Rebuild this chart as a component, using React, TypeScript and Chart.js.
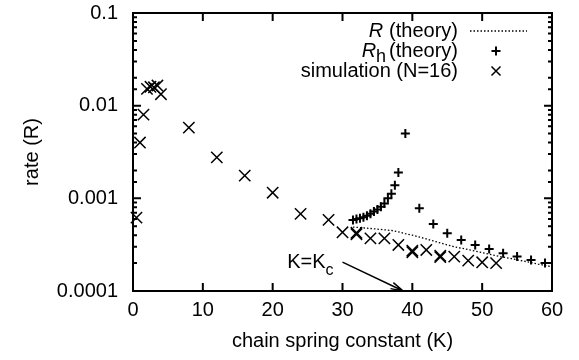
import React, { useEffect, useRef } from "react";
import { Chart, registerables } from "chart.js";

Chart.register(...registerables);

// ---------- data ----------
const rTheoryK = [31.5, 33, 35, 37, 38, 39, 40, 42, 44, 46, 48, 50, 52, 54, 56, 58, 60];
const rTheoryR = [4.9e-4, 4.8e-4, 4.65e-4, 4.5e-4, 4.35e-4, 4.15e-4, 4.0e-4, 3.65e-4, 3.3e-4, 3.0e-4, 2.8e-4, 2.6e-4, 2.4e-4, 2.25e-4, 2.1e-4, 1.95e-4, 1.83e-4];

const rhTheoryK = [31.5, 32, 32.5, 33, 33.5, 34, 34.5, 35, 35.5, 36, 36.5, 37, 37.5, 38, 39, 41, 43, 45, 47, 49, 51, 53, 55, 57, 59];
const rhTheoryR = [5.85e-4, 6.0e-4, 6.1e-4, 6.25e-4, 6.5e-4, 6.8e-4, 7.2e-4, 7.6e-4, 8.1e-4, 8.8e-4, 1.0e-3, 1.12e-3, 1.38e-3, 1.9e-3, 5.0e-3, 7.8e-4, 5.3e-4, 4.2e-4, 3.56e-4, 3.14e-4, 2.84e-4, 2.55e-4, 2.35e-4, 2.16e-4, 2.0e-4];

const simK = [0.5, 1, 1.5, 2, 2.5, 3, 3.5, 4, 8, 12, 16, 20, 24, 28, 30, 32, 32, 34, 36, 38, 40, 40, 42, 44, 44, 46, 48, 50, 52];
const simR = [6.2e-4, 4.0e-3, 8.0e-3, 1.52e-2, 1.6e-2, 1.58e-2, 1.65e-2, 1.33e-2, 5.8e-3, 2.77e-3, 1.76e-3, 1.15e-3, 6.8e-4, 5.85e-4, 4.3e-4, 4.1e-4, 4.25e-4, 3.7e-4, 3.7e-4, 3.14e-4, 2.62e-4, 2.72e-4, 2.77e-4, 2.32e-4, 2.4e-4, 2.35e-4, 2.13e-4, 2.04e-4, 2.0e-4];

const yTickLabels = ["0.0001", "0.001", "0.01", "0.1"];
const xTickLabels = ["0", "10", "20", "30", "40", "50", "60"];

const legendLabels = ["(theory)", "(theory)", "simulation (N=16)"];
const xTitle = "chain spring constant (K)";
const yTitle = "rate (R)";

// annotation arrow (data units): from label to K = Kc on the axis
const arrowFrom = { k: 30, r: 2.05e-4 };
const arrowTo = { k: 38.7, r: 1e-4 };

// ---------- styles ----------
const FAM = '"Liberation Sans", Arial, Helvetica, sans-serif';
const FS = 20;

function drawPlus(ctx: CanvasRenderingContext2D, x: number, y: number, r: number) {
  ctx.beginPath();
  ctx.moveTo(x - r, y);
  ctx.lineTo(x + r, y);
  ctx.moveTo(x, y - r);
  ctx.lineTo(x, y + r);
  ctx.stroke();
}
function drawX(ctx: CanvasRenderingContext2D, x: number, y: number, r: number) {
  ctx.beginPath();
  ctx.moveTo(x - r, y - r);
  ctx.lineTo(x + r, y + r);
  ctx.moveTo(x - r, y + r);
  ctx.lineTo(x + r, y - r);
  ctx.stroke();
}

const framePlugin = {
  id: "gnuframe",
  afterDraw(chart: any) {
    const { ctx, chartArea } = chart;
    const { left, right, top, bottom } = chartArea;
    const xs = chart.scales.x;
    const ys = chart.scales.y;
    ctx.save();
    ctx.strokeStyle = "#000";
    ctx.fillStyle = "#000";
    ctx.lineWidth = 2;
    ctx.setLineDash([]);
    // frame
    ctx.strokeRect(left, top, right - left, bottom - top);
    // x ticks (inward, top and bottom)
    xs.ticks.forEach((t: any) => {
      const px = xs.getPixelForValue(t.value);
      if (px <= left + 1 || px >= right - 1) return;
      ctx.beginPath();
      ctx.moveTo(px, bottom);
      ctx.lineTo(px, bottom - 8);
      ctx.moveTo(px, top);
      ctx.lineTo(px, top + 8);
      ctx.stroke();
    });
    // y ticks (inward, left and right)
    ys.ticks.forEach((t: any) => {
      const py = ys.getPixelForValue(t.value);
      if (py <= top + 1 || py >= bottom - 1) return;
      const lg = Math.log10(t.value);
      const major = Math.abs(lg - Math.round(lg)) < 1e-6;
      const len = major ? 8 : 4;
      ctx.beginPath();
      ctx.moveTo(left, py);
      ctx.lineTo(left + len, py);
      ctx.moveTo(right, py);
      ctx.lineTo(right - len, py);
      ctx.stroke();
    });

    // legend
    const textRight = 458;
    const rows = [31, 51, 71];
    const sx0 = 470, sx1 = 527, sxc = 496;
    ctx.textBaseline = "middle";
    ctx.textAlign = "right";
    ctx.font = `${FS}px ${FAM}`;
    const wTheory = ctx.measureText(legendLabels[0]).width;
    // row 1
    ctx.fillText(legendLabels[0], textRight, rows[0]);
    ctx.font = `italic ${FS}px ${FAM}`;
    ctx.fillText("R", textRight - wTheory - 6, rows[0]);
    // row 2
    ctx.font = `${FS}px ${FAM}`;
    ctx.fillText(legendLabels[1], textRight, rows[1]);
    const hX = textRight - wTheory - 3;
    ctx.font = `${FS * 0.9}px ${FAM}`;
    ctx.fillText("h", hX, rows[1] + 6);
    const wh = ctx.measureText("h").width;
    ctx.font = `italic ${FS}px ${FAM}`;
    ctx.fillText("R", hX - wh, rows[1]);
    // row 3
    ctx.font = `${FS}px ${FAM}`;
    ctx.fillText(legendLabels[2], textRight, rows[2]);
    // samples
    ctx.lineWidth = 1.3;
    ctx.setLineDash([1.5, 2]);
    ctx.beginPath();
    ctx.moveTo(sx0, rows[0]);
    ctx.lineTo(sx1, rows[0]);
    ctx.stroke();
    ctx.setLineDash([]);
    ctx.lineWidth = 2;
    drawPlus(ctx, sxc, rows[1], 4.5);
    ctx.lineWidth = 1.5;
    drawX(ctx, sxc, rows[2], 4.5);

    // arrow annotation
    const ax0 = xs.getPixelForValue(arrowFrom.k);
    const ay0 = ys.getPixelForValue(arrowFrom.r);
    const ax1 = xs.getPixelForValue(arrowTo.k);
    const ay1 = ys.getPixelForValue(arrowTo.r);
    ctx.lineWidth = 1.5;
    ctx.beginPath();
    ctx.moveTo(ax0, ay0);
    ctx.lineTo(ax1, ay1);
    const ang = Math.atan2(ay1 - ay0, ax1 - ax0);
    const hl = 13, ha = 0.26;
    ctx.moveTo(ax1, ay1);
    ctx.lineTo(ax1 - hl * Math.cos(ang - ha), ay1 - hl * Math.sin(ang - ha));
    ctx.moveTo(ax1, ay1);
    ctx.lineTo(ax1 - hl * Math.cos(ang + ha), ay1 - hl * Math.sin(ang + ha));
    ctx.stroke();
    // label K=Kc
    ctx.font = `${FS * 0.8}px ${FAM}`;
    const wc = ctx.measureText("c").width;
    const labelRight = ax0 - 9;
    ctx.textAlign = "right";
    ctx.fillText("c", labelRight, ay0 + 8);
    ctx.font = `${FS}px ${FAM}`;
    ctx.fillText("K=K", labelRight - wc, ay0 + 0);
    ctx.restore();
  },
};

export default function App() {
  const ref = useRef<HTMLCanvasElement | null>(null);

  useEffect(() => {
    document.body.style.margin = "0";
    if (!ref.current) return;
    const font = { family: FAM, size: FS };
    const chart = new Chart(ref.current, {
      type: "scatter",
      data: {
        datasets: [
          {
            label: "R (theory)",
            data: rTheoryK.map((k, i) => ({ x: k, y: rTheoryR[i] })),
            showLine: true,
            borderColor: "#000",
            borderWidth: 1.3,
            borderDash: [1.5, 2],
            pointRadius: 0,
            fill: false,
          },
          {
            label: "Rh (theory)",
            data: rhTheoryK.map((k, i) => ({ x: k, y: rhTheoryR[i] })),
            pointStyle: "cross",
            pointRadius: 4.5,
            pointBorderWidth: 2,
            borderColor: "#000",
            backgroundColor: "#000",
            showLine: false,
          },
          {
            label: "simulation (N=16)",
            data: simK.map((k, i) => ({ x: k, y: simR[i] })),
            pointStyle: "crossRot",
            pointRadius: 8,
            pointBorderWidth: 1.5,
            borderColor: "#000",
            backgroundColor: "#000",
            showLine: false,
            clip: false,
          } as any,
        ],
      },
      options: {
        animation: false,
        responsive: false,
        maintainAspectRatio: false,
        events: [],
        layout: { padding: { top: 13, right: 27, left: 0, bottom: 0 } },
        plugins: { legend: { display: false }, tooltip: { enabled: false } },
        scales: {
          x: {
            type: "linear",
            min: 0,
            max: 60,
            ticks: {
              stepSize: 10,
              color: "#000",
              font,
              padding: 7,
              maxRotation: 0,
              callback: (v: any) => xTickLabels[Math.round(Number(v) / 10)] ?? "",
            },
            grid: { display: false, drawTicks: false },
            border: { display: false },
            title: {
              display: true,
              text: xTitle,
              color: "#000",
              font,
              padding: { top: 0, bottom: 7 },
            },
            afterFit: (s: any) => {
              s.height = 69;
              s.paddingLeft = 0;
              s.paddingRight = 0;
            },
          },
          y: {
            type: "logarithmic",
            min: 1e-4,
            max: 0.1,
            ticks: {
              color: "#000",
              font,
              padding: 15,
              autoSkip: false,
              callback: (v: any) => {
                const lg = Math.log10(Number(v));
                if (Math.abs(lg - Math.round(lg)) > 1e-6) return "";
                return yTickLabels[Math.round(lg) + 4] ?? "";
              },
            },
            grid: { display: false, drawTicks: false },
            border: { display: false },
            title: {
              display: true,
              text: yTitle,
              color: "#000",
              font,
              padding: { top: 20, bottom: 0 },
            },
            afterFit: (s: any) => {
              s.width = 133;
              s.paddingTop = 0;
              s.paddingBottom = 0;
            },
          },
        },
      },
      plugins: [framePlugin],
    });
    return () => chart.destroy();
  }, []);

  return (
    <div style={{ width: 579, height: 360 }}>
      <canvas ref={ref} width={579} height={360} style={{ display: "block" }} />
    </div>
  );
}
